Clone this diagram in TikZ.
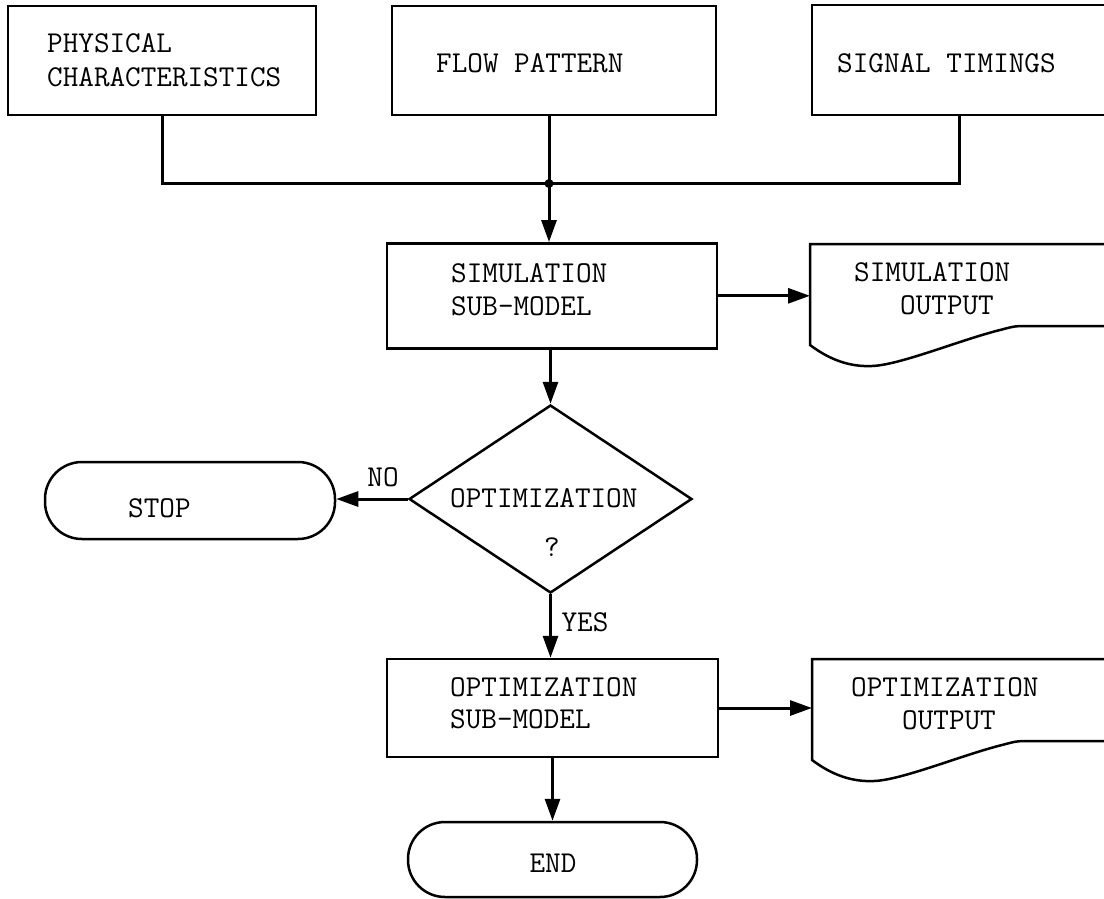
\documentclass[tikz,border=0pt]{standalone}
\usetikzlibrary{arrows.meta,shapes.geometric}

\begin{document}
\begin{tikzpicture}[x=1pt,y=-1pt,
  box/.style={draw,line width=2.5pt,rectangle,inner sep=0pt},
  term/.style={draw,line width=2.5pt,rectangle,rounded corners=37pt,inner sep=0pt},
  decision/.style={draw,line width=2.5pt,diamond,inner sep=0pt},
  link/.style={line width=3pt,line join=miter},
  flow/.style={line width=3pt,-{Triangle[length=22pt,width=15pt]}},
  txt/.style={font=\fontsize{30.3}{33}\selectfont\ttfamily,inner sep=0pt,anchor=base west},
  ctxt/.style={txt,anchor=base},
  outdoc/.pic={
    \draw[line width=2.5pt] (300,0) -- (0,0) -- (0,101)
      .. controls (20,116) and (40,123) .. (62,122)
      .. controls (90,121) and (150,96) .. (190,86)
      .. controls (205,82) .. (220,82) -- (300,82);
    \coordinate (-in) at (0,51.5);
  }]

% page area
\path[fill=white,use as bounding box] (0,0) rectangle (1104,898);
\clip (0,0) rectangle (1104,898);

% input boxes
\node[box,minimum width=308pt,minimum height=109pt] (phys) at (162,60.5) {};
\node[box,minimum width=324pt,minimum height=109pt] (flow) at (554,60.5) {};
\node[box,minimum width=294pt,minimum height=110pt] (sig)  at (959,60) {};
\node[txt] (physA) at (47,52) {PHYSICAL};
\node[txt] (physB) at (47,86) {CHARACTERISTICS};
\node[txt] (flowT) at (436,72) {FLOW PATTERN};
\node[txt] (sigT)  at (837,72) {SIGNAL TIMINGS};

% collecting line
\coordinate (jn) at (549,183.5);
\draw[link] (phys.south) |- (jn) -| (sig.south);
\draw[link] (flow.south -| jn) -- (jn);
\fill (jn) circle (4.5pt);

% simulation stage
\node[box,minimum width=330pt,minimum height=105pt] (sim) at (552,295.8) {};
\node[txt] (simA) at (451,282) {SIMULATION};
\node[txt] (simB) at (451,315) {SUB-MODEL};
\pic (simdoc) at (810,244) {outdoc};
\node[txt] (simoA) at (854,281) {SIMULATION};
\node[txt] (simoB) at (900,314) {OUTPUT};
\draw[flow] (jn) -- (sim.north -| jn);
\draw[flow] (sim.east) -- (sim.east -| simdoc-in);

% decision
\node[decision,minimum width=283pt,minimum height=188pt] (ask) at (550.5,499) {};
\node[txt] (askA) at (450,507) {OPTIMIZATION};
\node[ctxt] (askB) at (552,556) {?};
\draw[flow] (sim.south -| ask.north) -- (ask.north);

% stop
\node[term,minimum width=290pt,minimum height=77pt] (stop) at (190,500.5) {};
\node[txt] (stopT) at (128,517) {STOP};
\draw[flow] (ask.west) -- (stop.east |- ask.west);
\node[ctxt] (no) at (383,486) {NO};

% optimization stage
\node[box,minimum width=331pt,minimum height=98pt] (opt) at (552.5,708) {};
\node[txt] (optA) at (450,696) {OPTIMIZATION};
\node[txt] (optB) at (450,728) {SUB-MODEL};
\draw[flow] (ask.south) -- (opt.north -| ask.south);
\node[ctxt] (yes) at (585,631) {YES};
\pic (optdoc) at (812,659) {outdoc};
\node[txt] (optoA) at (851,696) {OPTIMIZATION};
\node[txt] (optoB) at (902,729) {OUTPUT};
\draw[flow] (opt.east) -- (opt.east -| optdoc-in);

% end
\node[term,minimum width=289pt,minimum height=75pt] (end) at (552.5,859.5) {};
\node[ctxt] (endT) at (553,872) {END};
\draw[flow] (opt.south) -- (end.north);

\end{tikzpicture}
\end{document}
